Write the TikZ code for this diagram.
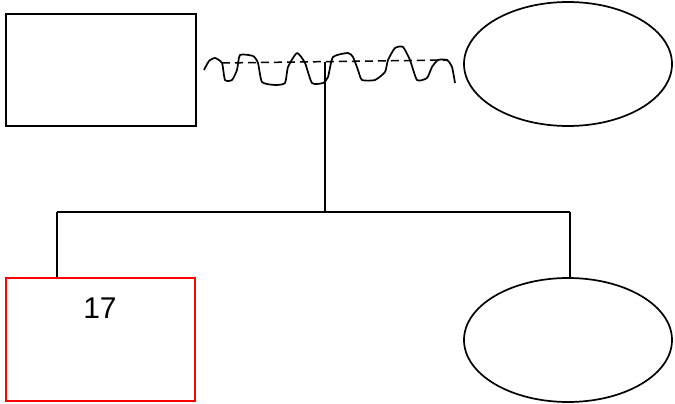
\documentclass[tikz,border=0pt]{standalone}
\usepackage{fontspec}
\setmainfont{Liberation Sans}
\usetikzlibrary{shapes.geometric,positioning}
\definecolor{gred}{HTML}{FF0000}
\tikzset{
  male/.style={draw=black,line width=1.7pt,minimum width=190pt,minimum height=112pt,inner sep=0pt},
  female/.style={draw=black,line width=1.7pt,ellipse,minimum width=208pt,minimum height=124pt,inner sep=0pt},
  index/.style={draw=gred,line width=2.6pt,minimum width=189pt,minimum height=123pt,inner sep=0pt},
  link/.style={line width=1.7pt,draw=black},
  bond/.style={line width=1.5pt,draw=black,dashed,dash pattern=on 8pt off 5pt},
}
\begin{document}
\begin{tikzpicture}[x=1pt,y=-1pt]
  \useasboundingbox (0,0) rectangle (675,404);
  \node[male] (father) at (101,70) {};
  \node[female] (mother) at (568,64) {};
  \node[index] (child) at (100.5,339.5) {};
  \node[female] (sister) at (568,340) {};
  \node[font=\fontsize{30}{36}\selectfont] at (100,308) {17};
  % relation between the parents
  \coordinate (bl) at (222,63);
  \coordinate (br) at (448,60);
  \coordinate (mid) at (325,62);
  \draw[bond] (bl) -- (br);
  \draw[link,line join=round] plot[smooth,tension=0.35] coordinates {(204,70) (209,61) (215,58) (222,63) (225,80) (232,80) (237,70) (240,55)
    (253,56) (258,63) (262,82) (275,85) (285,83) (288,67) (297,53) (305,63) (312,83) (323,83) (328,77) (333,57)
    (348,53) (353,57) (358,70) (362,80) (375,80) (385,72) (388,60) (395,48) (403,47) (410,60) (417,80) (427,78)
    (432,67) (438,60) (447,60) (452,67) (455,83)};
  % children
  \coordinate (sib) at (325,212);
  \coordinate (sl) at (57,212);
  \coordinate (sr) at (570,212);
  \draw[link] (mid) -- (sib);
  \draw[link] (sl) -- (sr);
  \draw[link] (sl) -- (sl |- child.north);
  \draw[link] (sr) -- (sr |- sister.north);
\end{tikzpicture}
\end{document}
